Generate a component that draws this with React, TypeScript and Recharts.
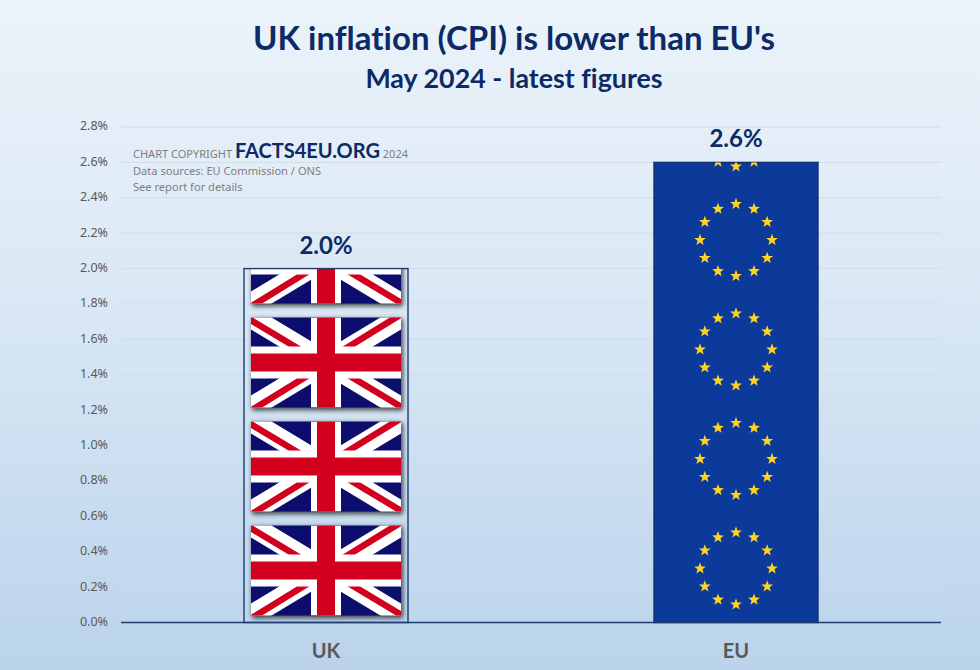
import { BarChart, Bar, XAxis, YAxis, CartesianGrid, LabelList, ReferenceLine } from 'recharts'

const categories = ['UK', 'EU']
const inflation = [2.0, 2.6]
const yTicks = [0, 0.2, 0.4, 0.6, 0.8, 1.0, 1.2, 1.4, 1.6, 1.8, 2.0, 2.2, 2.4, 2.6, 2.8]

const chartData = categories.map((name, i) => ({ name, value: inflation[i] }))

const NAVY = '#0c2a66'
const GREY = '#595959'
const LATO = 'Lato, sans-serif'
const BODY = '"Noto Sans", sans-serif'

// One Union Jack, 150 x 90, top left at 0,0
function UnionJack({ x, y, id }: { x: number; y: number; id: string }) {
  const blue = '#090f6e'
  const red = '#d2041e'
  return (
    <g transform={`translate(${x},${y})`} filter="url(#flagShadow)">
      <clipPath id={id}>
        <rect width={150} height={90} />
      </clipPath>
      <rect width={150} height={90} fill={blue} />
      <g clipPath={`url(#${id})`}>
        <path d="M-8,-5L158,95M158,-5L-8,95" stroke="#fff" strokeWidth={21} />
        <path d="M-8,-2L72,46M72,45L158,-8M158,94L78,46M78,45L-8,98" stroke={red} strokeWidth={6.5} />
        <rect x={60} width={30} height={90} fill="#fff" />
        <rect y={29} width={150} height={32} fill="#fff" />
        <rect x={66} width={18} height={90} fill={red} />
        <rect y={36} width={150} height={18} fill={red} />
      </g>
    </g>
  )
}

function ukBar({ x, y, width, height }: any) {
  const flags: number[] = []
  // flags stack up from the axis and the top one gets cut off by the bar
  for (let top = y + height - 97; top + 90 > y; top -= 104) flags.push(top)
  return (
    <g>
      <defs>
        <filter id="flagShadow" x="-10%" y="-10%" width="120%" height="125%">
          <feDropShadow dx={1.5} dy={2} stdDeviation={2.4} floodColor="#111" floodOpacity={0.85} />
        </filter>
        <clipPath id="ukClip">
          <rect x={x} y={y} width={width} height={height} />
        </clipPath>
      </defs>
      <g clipPath="url(#ukClip)">
        {flags.map((top, i) => (
          <UnionJack key={i} x={x + 7} y={top} id={`jack${i}`} />
        ))}
      </g>
      <rect x={x} y={y} width={width} height={height} fill="none" stroke="#1c3a70" strokeWidth={1.4} />
    </g>
  )
}

function starPoints(cx: number, cy: number, r: number) {
  const pts: string[] = []
  for (let i = 0; i < 10; i++) {
    const rad = i % 2 === 0 ? r : r * 0.42
    const a = (Math.PI / 5) * i - Math.PI / 2
    pts.push(`${cx + rad * Math.cos(a)},${cy + rad * Math.sin(a)}`)
  }
  return pts.join(' ')
}

function euBar({ x, y, width, height }: any) {
  const rings: number[] = []
  for (let cy = y + height - 54; cy + 42 > y; cy -= 109.5) rings.push(cy)
  const cx = x + width / 2
  return (
    <g>
      <defs>
        <clipPath id="euClip">
          <rect x={x} y={y} width={width} height={height} />
        </clipPath>
      </defs>
      <rect x={x} y={y} width={width} height={height} fill="#0b3a9b" stroke="#123070" strokeWidth={1.4} />
      <g clipPath="url(#euClip)">
        {rings.map((cy) =>
          Array.from({ length: 12 }).map((_, i) => {
            const a = (Math.PI / 6) * i
            return (
              <polygon
                key={`${cy}-${i}`}
                points={starPoints(cx + 36 * Math.sin(a), cy - 36 * Math.cos(a), 6.2)}
                fill="#ffd320"
              />
            )
          }),
        )}
      </g>
    </g>
  )
}

function flagBar(props: any) {
  return props.name === 'UK' ? ukBar(props) : euBar(props)
}

export default function App() {
  return (
    <div
      style={{
        position: 'absolute',
        left: 0,
        top: 0,
        width: 980,
        height: 670,
        overflow: 'hidden',
        fontVariantLigatures: 'none',
        background: 'linear-gradient(180deg, #ebf3fa 0%, #dae8f5 45%, #bad3eb 100%)',
      }}
    >
      <BarChart
        width={980}
        height={670}
        data={chartData}
        barSize={164}
        margin={{ top: 127, right: 39, bottom: 0, left: 0 }}
      >
        <CartesianGrid vertical={false} stroke="#d3dce5" strokeWidth={1} />
        <XAxis
          dataKey="name"
          height={47.5}
          axisLine={false}
          tickLine={false}
          tickMargin={15}
          tick={{ fill: GREY, fontFamily: LATO, fontSize: 20, fontWeight: 700 }}
        />
        <YAxis
          width={121}
          domain={[0, 2.8]}
          ticks={yTicks}
          interval={0}
          axisLine={false}
          tickLine={false}
          tickMargin={7}
          tickFormatter={(v: number) => `${v.toFixed(1)}%`}
          tick={{ fill: GREY, fontFamily: BODY, fontSize: 12.5, dy: -1 }}
        />
        <ReferenceLine y={0} stroke="#1f3a70" strokeWidth={1.3} />
        <Bar dataKey="value" isAnimationActive={false} shape={flagBar}>
          <LabelList
            dataKey="value"
            position="top"
            offset={15}
            formatter={(v: number) => `${v.toFixed(1)}%`}
            style={{ fill: NAVY, fontFamily: LATO, fontSize: 24, fontWeight: 700 }}
          />
        </Bar>
      </BarChart>

      <div style={{ position: 'absolute', left: 0, top: 17, width: 1028, textAlign: 'center', fontFamily: LATO, fontSize: 33, fontWeight: 700, color: NAVY, whiteSpace: 'nowrap' }}>
        UK inflation (CPI) is lower than EU's
      </div>
      <div style={{ position: 'absolute', left: 0, top: 62, width: 1028, textAlign: 'center', fontFamily: LATO, fontSize: 26.8, fontWeight: 700, color: NAVY, whiteSpace: 'nowrap' }}>
        May 2024 - latest figures
      </div>

      <div style={{ position: 'absolute', left: 133, top: 138, fontFamily: BODY, fontSize: 11, color: '#7f7f7f', whiteSpace: 'nowrap', lineHeight: '25px' }}>
        CHART COPYRIGHT{' '}
        <span style={{ fontFamily: LATO, fontSize: 20, fontWeight: 700, color: NAVY }}>FACTS4EU.ORG</span> 2024
      </div>
      <div style={{ position: 'absolute', left: 133, top: 163, fontFamily: BODY, fontSize: 11.1, color: '#7f7f7f', whiteSpace: 'nowrap' }}>
        Data sources: EU Commission / ONS
      </div>
      <div style={{ position: 'absolute', left: 133, top: 179, fontFamily: BODY, fontSize: 11.1, color: '#7f7f7f', whiteSpace: 'nowrap' }}>
        See report for details
      </div>
    </div>
  )
}
